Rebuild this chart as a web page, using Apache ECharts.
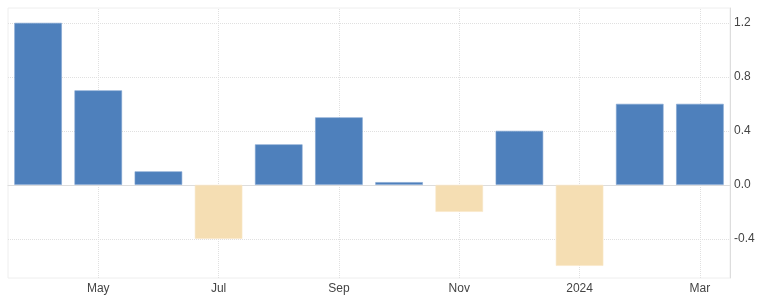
<!DOCTYPE html>
<html><head><meta charset="utf-8">
<script src="https://cdn.jsdelivr.net/npm/echarts@6/dist/echarts.min.js"></script>
<style>html,body{margin:0;padding:0;background:#fff}#c{width:768px;height:304px}</style>
</head><body><div id="c"></div>
<script>
const categories = ['Apr','May','Jun','Jul','Aug','Sep','Oct','Nov','Dec','2024','Feb','Mar'];
const values = [1.2, 0.7, 0.1, -0.4, 0.3, 0.5, 0.02, -0.2, 0.4, -0.6, 0.6, 0.6];
const yTicks = [-0.4, 0.0, 0.4, 0.8, 1.2];
const xLabelled = ['May','Jul','Sep','Nov','2024','Mar'];

const chart = echarts.init(document.getElementById('c'), null, {renderer:'canvas'});
const gridLines = yTicks.map(v => ({yAxis: v})).concat(xLabelled.map(c => ({xAxis: c})));
chart.setOption({
  animation: false,
  backgroundColor: '#fff',
  grid: {left: 8, right: 38, top: 8, bottom: 26, containLabel: false, show: true, borderColor: '#eeeeee', borderWidth: 1, backgroundColor: 'transparent'},
  xAxis: {
    type: 'category', data: categories,
    axisLine: {show: true, lineStyle: {color: '#dddddd'}},
    axisTick: {show: false},
    splitLine: {show: false},
    axisLabel: {
      interval: (i, v) => xLabelled.indexOf(v) >= 0,
      color: '#444', fontSize: 12, fontFamily: 'Arial, Liberation Sans, sans-serif', margin: 5
    }
  },
  yAxis: {
    type: 'value', position: 'right', min: -0.69, max: 1.31, interval: 0.01,
    axisLine: {show: true, lineStyle: {color: '#dddddd'}},
    axisTick: {show: false},
    splitLine: {show: false},
    axisLabel: {
      color: '#444', fontSize: 12, fontFamily: 'Arial, Liberation Sans, sans-serif', margin: 4,
      formatter: v => {
        const t = yTicks.find(x => Math.abs(x - v) < 1e-6);
        return t === undefined ? '' : t.toFixed(1);
      }
    }
  },
  series: [{
    type: 'bar', z: 2,
    barCategoryGap: '21%',
    data: values.map(v => ({value: v, itemStyle: {color: v >= 0 ? '#4e80bc' : '#f5deb3', borderColor: v >= 0 ? '#7fa3d0' : '#f8e6c6', borderWidth: 0.6}})),
    markLine: {
      silent: true, z: 0, symbol: ['none','none'], animation: false,
      label: {show: false},
      lineStyle: {type: 'dotted', color: '#e0e0e0', width: 1},
      emphasis: {disabled: true},
      data: gridLines
    }
  }]
});
</script></body></html>
